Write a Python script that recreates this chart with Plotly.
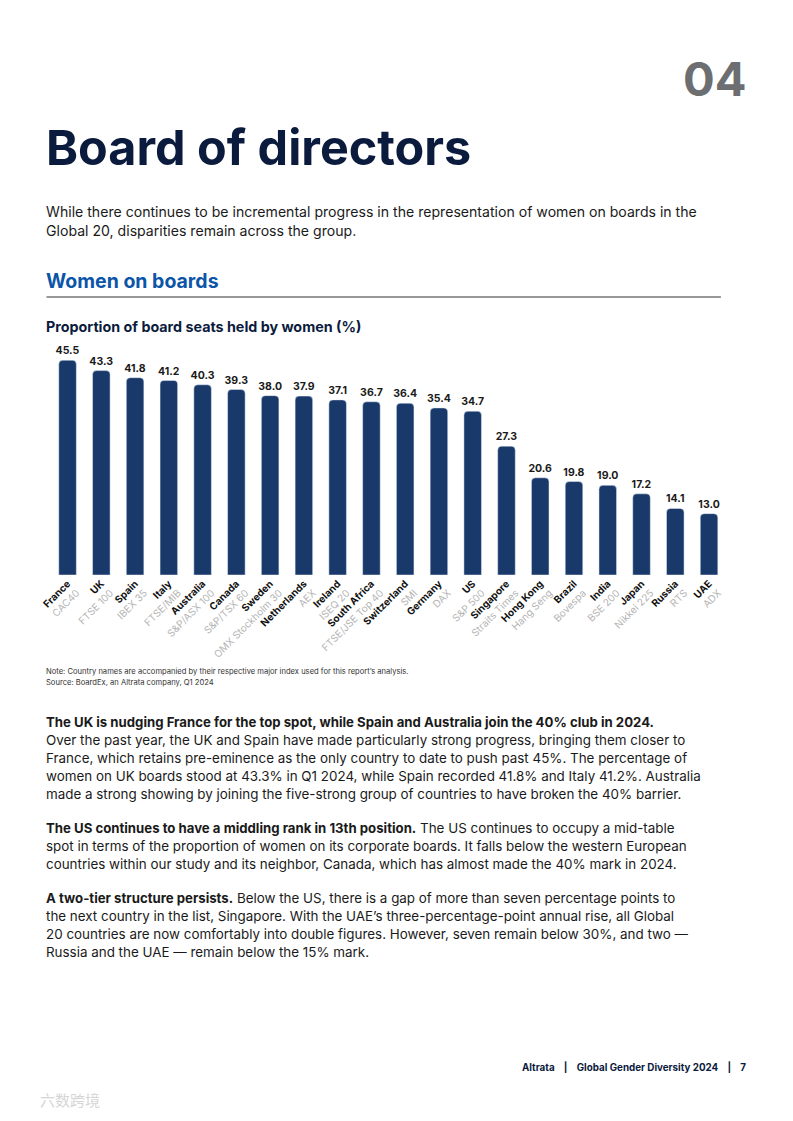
import plotly.graph_objects as go

countries = ["France", "UK", "Spain", "Italy", "Australia", "Canada", "Sweden", "Netherlands",
             "Ireland", "South Africa", "Switzerland", "Germany", "US", "Singapore", "Hong Kong",
             "Brazil", "India", "Japan", "Russia", "UAE"]
indices = ["CAC40", "FTSE 100", "IBEX 35", "FTSE/MIB", "S&P/ASX 100", "S&P/TSX 60",
           "OMX Stockholm 30", "AEX", "ISEQ 20", "FTSE/JSE Top 40", "SMI", "DAX", "S&P 500",
           "Straits Times", "Hang Seng", "Bovespa", "BSE 200", "Nikkei 225", "RTS", "ADX"]
women_pct = [45.5, 43.3, 41.8, 41.2, 40.3, 39.3, 38.0, 37.9, 37.1, 36.7, 36.4, 35.4, 34.7,
             27.3, 20.6, 19.8, 19.0, 17.2, 14.1, 13.0]

title = "Board of directors"
section_no = "04"
intro_lines = [
    "While there continues to be incremental progress in the representation of women on boards in the",
    "Global 20, disparities remain across the group.",
]
section_title = "Women on boards"
chart_title = "Proportion of board seats held by women (%)"
note_lines = [
    "Note: Country names are accompanied by their respective major index used for this report\u2019s analysis.",
    "Source: BoardEx, an Altrata company, Q1 2024",
]
body_lines = [
    "<b style='font-size:13.2px'>The UK is nudging France for the top spot, while Spain and Australia join the 40% club in 2024.</b>",
    "Over the past year, the UK and Spain have made particularly strong progress, bringing them closer to",
    "France, which retains pre-eminence as the only country to date to push past 45%. The percentage of",
    "women on UK boards stood at 43.3% in Q1 2024, while Spain recorded 41.8% and Italy 41.2%. Australia",
    "made a strong showing by joining the five-strong group of countries to have broken the 40% barrier.",
    "<b style='font-size:13.2px'>The US continues to have a middling rank in 13th position.</b> The US continues to occupy a mid-table",
    "spot in terms of the proportion of women on its corporate boards. It falls below the western European",
    "countries within our study and its neighbor, Canada, which has almost made the 40% mark in 2024.",
    "<b style='font-size:13.2px'>A two-tier structure persists.</b> Below the US, there is a gap of more than seven percentage points to",
    "the next country in the list, Singapore. With the UAE\u2019s three-percentage-point annual rise, all Global",
    "20 countries are now comfortably into double figures. However, seven remain below 30%, and two \u2014",
    "Russia and the UAE \u2014 remain below the 15% mark.",
]
body_y = [722, 740, 758, 776, 794, 828, 846, 864, 898, 916, 934, 952]
footer = "Altrata    |    Global Gender Diversity 2024    |    7"

# page is 793x1121; browser body margin is 8px, so the figure is 777x1105
OFF = 8
W, H = 793 - 2 * OFF, 1121 - 2 * OFF
FONT = "Inter"
NAVY = "#0b1b3d"
BAR = "#18396a"
SX, BX = 0.985, 18.6   # observed horizontal mapping of figure px -> page px

def py(px):
    return 1 - (px - OFF) / H

def pxx(px):
    return ((px - BX) / SX) / W

ticktext = [f"<b>{c}</b><br><span style='color:#b5b5b5'>{i}</span>" for c, i in zip(countries, indices)]

fig = go.Figure()
fig.add_trace(go.Bar(
    x=countries, y=women_pct, width=0.52,
    marker=dict(color=BAR, cornerradius=4),
    text=[f"{v:.1f}" for v in women_pct], textposition="outside", constraintext="none",
    textfont=dict(family=FONT, size=10.5, color="#1a1a1a", weight="bold"),
    cliponaxis=False, hoverinfo="skip",
))

fig.update_layout(
    width=W, height=H, margin=dict(l=0, r=0, t=0, b=0),
    paper_bgcolor="white", plot_bgcolor="white", showlegend=False,
    font=dict(family=FONT, color="#1a1a1a"),
    xaxis=dict(domain=[pxx(51.2), pxx(725)], tickmode="array", tickvals=countries, ticktext=ticktext,
               tickangle=-45, tickfont=dict(family=FONT, size=10, color="#111111"),
               showline=False, showgrid=False, ticks="", zeroline=False),
    yaxis=dict(domain=[py(575), py(339)], range=[0, 50], visible=False),
)

ann = []
def add(text, x, y, size, color="#1a1a1a", bold=False, xanchor="left", family=FONT):
    ann.append(dict(text=f"<b>{text}</b>" if bold else text, x=pxx(x), y=py(y), xref="paper", yref="paper",
                    xanchor=xanchor, yanchor="middle", showarrow=False, borderpad=0,
                    font=dict(family=family, size=size, color=color)))

add(section_no, 746, 78, 47, color="#6d6e71", bold=True, xanchor="right")
add(title, 46, 147, 48.5, color=NAVY, bold=True)
for k, line in enumerate(intro_lines):
    add(line, 46, 212 + 19.5 * k, 14.1, color="#1a1a1a")
add(section_title, 46, 281, 19.5, color="#0b55a8", bold=True)
add(chart_title, 46, 327, 14.3, color=NAVY, bold=True)
for k, line in enumerate(note_lines):
    add(line, 46, 671 + 11.5 * k, 7.6, color="#333333")
for line, yy in zip(body_lines, body_y):
    add(line, 46, yy, 13.4, color="#1a1a1a")
add(footer, 746, 1067, 9.8, color=NAVY, bold=True, xanchor="right")
add("\u516d\u6570\u8de8\u5883", 40, 1099, 15, color="#d6d6d6", family="Noto Sans CJK SC")

fig.update_layout(annotations=ann)
fig.add_shape(type="line", xref="paper", yref="paper", x0=pxx(47), x1=pxx(720), y0=py(297), y1=py(297),
              line=dict(color="#333333", width=1))

fig.write_html("out.html")
